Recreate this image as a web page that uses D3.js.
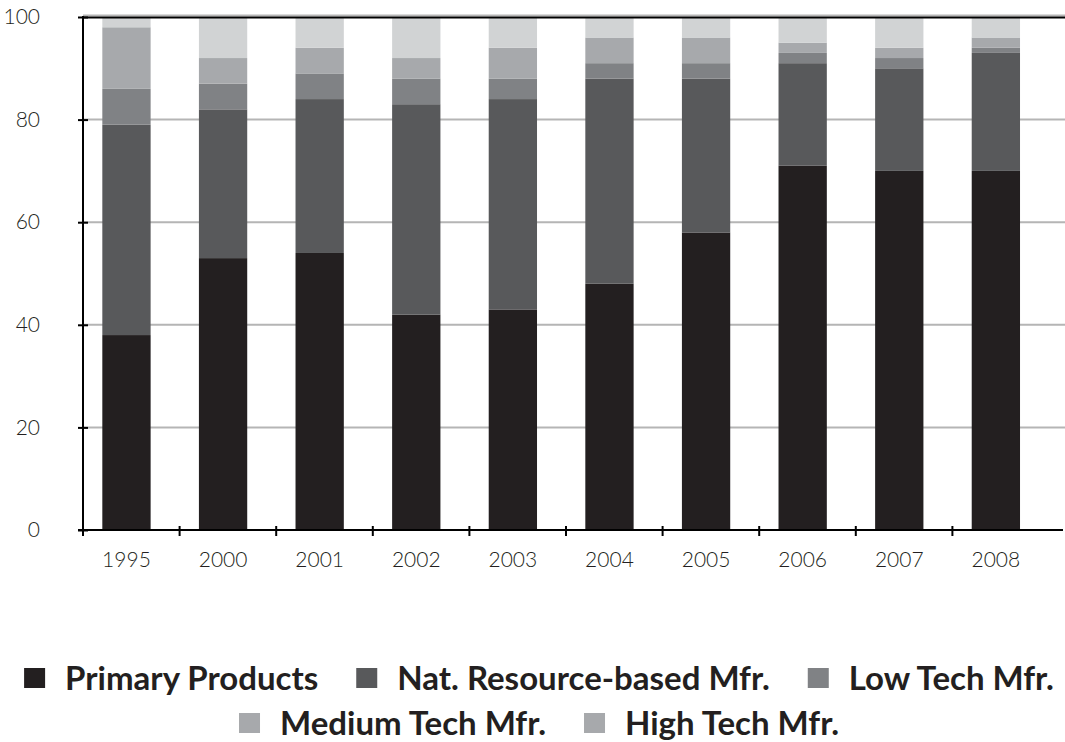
<!DOCTYPE html>
<html>
<head>
<meta charset="utf-8">
<script src="https://cdn.jsdelivr.net/npm/d3@7"></script>
<style>
  html, body { margin: 0; padding: 0; background: #fff; }
  svg { display: block; }
</style>
</head>
<body>
<svg id="chart" width="1065" height="742"></svg>
<script>
// ---- data ----
const years = ["1995","2000","2001","2002","2003","2004","2005","2006","2007","2008"];
const seriesNames = ["Primary Products","Nat. Resource-based Mfr.","Low Tech Mfr.","Medium Tech Mfr.","High Tech Mfr."];
const primaryProducts = [38, 53, 54, 42, 43, 48, 58, 71, 70, 70];
const natResourceMfr  = [41, 29, 30, 41, 41, 40, 30, 20, 20, 23];
const lowTechMfr      = [ 7,  5,  5,  5,  4,  3,  3,  2,  2,  1];
const mediumTechMfr   = [12,  5,  5,  4,  6,  5,  5,  2,  2,  2];
const highTechMfr     = [ 2,  8,  6,  8,  6,  4,  4,  5,  6,  4];
const yTicks = [0, 20, 40, 60, 80, 100];

// ---- styles ----
const barColors    = ["#231f20", "#58595b", "#808285", "#a7a9ac", "#d1d3d4"];
const legendColors = ["#231f20", "#58595b", "#808285", "#a7a9ac", "#a7a9ac"];

(function () {
const seriesValues = [primaryProducts, natResourceMfr, lowTechMfr, mediumTechMfr, highTechMfr];
const keys = ["p","n","l","m","h"];
const rows = years.map((yr, i) => {
  const r = { year: yr };
  keys.forEach((k, j) => r[k] = seriesValues[j][i]);
  return r;
});
const stacked = d3.stack().keys(keys)(rows);

const svg = d3.select("#chart");
const mLeft = 83, mRight = 1049, mTop = 17, mBottom = 530;

const x = d3.scaleBand().domain(years).range([mLeft, mRight])
  .paddingInner(0.5).paddingOuter(0.25).align(0.4);
const y = d3.scaleLinear().domain([0, 100]).range([mBottom, mTop]);

// gridlines
svg.append("g").selectAll("line")
  .data(yTicks.filter(d => d > 0))
  .join("line")
  .attr("x1", mLeft).attr("x2", 1065)
  .attr("y1", d => y(d) - (d === 100 ? 1.5 : 0))
  .attr("y2", d => y(d) - (d === 100 ? 1.5 : 0))
  .attr("stroke", "#b5b5b5").attr("stroke-width", 2);

// bars
svg.append("g").selectAll("g")
  .data(stacked)
  .join("g")
  .attr("fill", (d, i) => barColors[i])
  .selectAll("rect")
  .data(d => d)
  .join("rect")
  .attr("x", d => x(d.data.year))
  .attr("width", x.bandwidth())
  .attr("y", d => y(d[1]))
  .attr("height", d => y(d[0]) - y(d[1]));

// top black line
svg.append("line")
  .attr("x1", mLeft).attr("x2", 1065)
  .attr("y1", y(100) + 0.5).attr("y2", y(100) + 0.5)
  .attr("stroke", "#000").attr("stroke-width", 2);

// y axis
const yAxis = svg.append("g").attr("transform", `translate(${mLeft},0)`)
  .call(d3.axisLeft(y).tickValues(yTicks).tickSize(5).tickPadding(38));
yAxis.select(".domain").remove();
yAxis.selectAll(".tick line").attr("x1", -5).attr("x2", 5).attr("stroke", "#000").attr("stroke-width", 2);
yAxis.selectAll(".tick text")
  .attr("font-family", "Lato, sans-serif").attr("font-weight", 300).attr("font-size", 21).attr("fill", "#231f20");
svg.append("line").attr("x1", mLeft).attr("x2", mLeft).attr("y1", mTop - 1).attr("y2", mBottom)
  .attr("stroke", "#000").attr("stroke-width", 2);

// x axis
const xAxis = svg.append("g").attr("transform", `translate(0,${mBottom})`)
  .call(d3.axisBottom(x).tickSize(0).tickPadding(22));
xAxis.select(".domain").remove();
xAxis.selectAll(".tick text")
  .attr("font-family", "Lato, sans-serif").attr("font-weight", 300).attr("font-size", 21).attr("fill", "#231f20");
svg.append("line").attr("x1", mLeft - 5).attr("x2", 1063).attr("y1", mBottom).attr("y2", mBottom)
  .attr("stroke", "#000").attr("stroke-width", 2);
svg.append("g").selectAll("line")
  .data(d3.range(years.length))
  .join("line")
  .attr("x1", i => mLeft + i * x.step()).attr("x2", i => mLeft + i * x.step())
  .attr("y1", mBottom - 4).attr("y2", mBottom + 6)
  .attr("stroke", "#000").attr("stroke-width", 2);

// legend
const legendRows = [[0, 1, 2], [3, 4]];
const rowY = [678, 723];
const sw = 21, swGap = 20, itemGap = 38, cx = 539;
legendRows.forEach((idxs, r) => {
  const g = svg.append("g");
  let cur = 0;
  idxs.forEach(i => {
    const it = g.append("g");
    it.append("rect").attr("x", 0).attr("y", -10).attr("width", sw).attr("height", 20)
      .attr("fill", legendColors[i]);
    const t = it.append("text").attr("x", sw + swGap).attr("y", 0).attr("dy", "0.36em")
      .attr("font-family", "Lato, sans-serif").attr("font-weight", 700).attr("font-size", 33)
      .attr("fill", "#231f20").text(seriesNames[i]);
    const w = sw + swGap + t.node().getComputedTextLength();
    it.attr("transform", `translate(${cur},0)`);
    cur += w + itemGap;
  });
  const total = cur - itemGap;
  g.attr("transform", `translate(${cx - total / 2},${rowY[r]})`);
});
})();
</script>
</body>
</html>
